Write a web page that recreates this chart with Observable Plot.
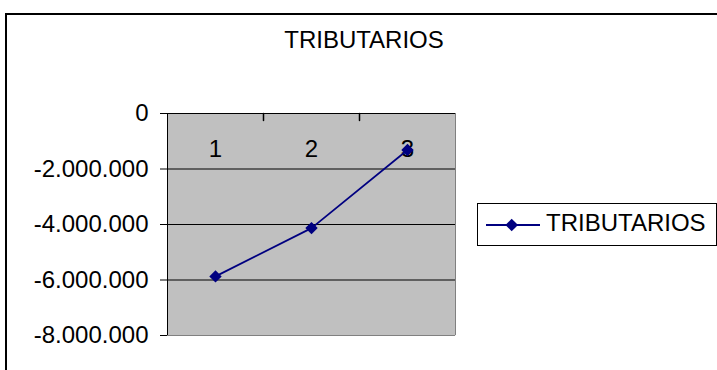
<!DOCTYPE html>
<html><head><meta charset="utf-8">
<script src="https://cdn.jsdelivr.net/npm/d3@7"></script>
<script src="https://cdn.jsdelivr.net/npm/@observablehq/plot@0.6"></script>
<style>
html,body{margin:0;padding:0;background:#fff;overflow:hidden;}
#wrap{position:relative;width:717px;height:370px;}
#wrap > svg{position:absolute;left:0;top:0;}
</style></head><body><div id="wrap"></div>
<script>
const categories = [1, 2, 3];
const seriesName = "TRIBUTARIOS";
const values = [-5870000, -4130000, -1315000];
const yTicks = [0, -2000000, -4000000, -6000000, -8000000];
const title = "TRIBUTARIOS";

const data = categories.map((c, i) => ({cat: c, value: values[i]}));
const locale = d3.formatLocale({decimal: ",", thousands: ".", grouping: [3], currency: ["$", ""], minus: "-"});
const fmt = locale.format(",d");
const FONT = "'Liberation Sans', Arial, sans-serif";
const FS = 24;
const navy = "#000080";
const bounds = [categories[0] - 0.5, categories[categories.length - 1] + 0.5];
const sep = categories.slice(0, -1).map(c => c + 0.5);
const yDomain = [d3.min(yTicks), d3.max(yTicks)];

const tickShape = {draw(ctx, l) { ctx.moveTo(0, 0); ctx.lineTo(0, l); }};

const chart = Plot.plot({
  width: 717, height: 370,
  marginLeft: 167, marginRight: 262, marginTop: 113, marginBottom: 35,
  style: {fontFamily: FONT, fontSize: FS + "px", color: "#000", background: "transparent", overflow: "visible"},
  x: {type: "linear", domain: bounds, axis: null, label: null},
  y: {type: "linear", domain: yDomain, axis: null, label: null},
  marks: [
    Plot.frame({fill: "#C0C0C0", stroke: null}),
    Plot.ruleY(yTicks.slice(1, -1), {stroke: "#000"}),
    Plot.ruleY([yDomain[0]], {stroke: "#808080"}),
    Plot.ruleX([bounds[1]], {stroke: "#808080"}),
    Plot.ruleX([bounds[0]], {stroke: "#000"}),
    Plot.ruleY([0], {stroke: "#000"}),
    Plot.axisY({ticks: yTicks, tickSize: 7, tickPadding: 12, tickFormat: fmt, fontSize: FS, label: null}),
    Plot.vector(sep, {x: d => d, y: 0, length: 7, anchor: "start", shape: tickShape, stroke: "#000"}),
    Plot.text(categories, {x: d => d, y: 0, text: d => String(d), dy: 36, fontSize: FS}),
    Plot.line(data, {x: "cat", y: "value", stroke: navy, strokeWidth: 1.75}),
    Plot.dot(data, {x: "cat", y: "value", symbol: "diamond2", r: 5.6, fill: navy, stroke: null})
  ]
});
const wrap = document.getElementById("wrap");
wrap.appendChild(chart);

// overlay: chart border, title, legend
const over = d3.create("svg").attr("width", 717).attr("height", 370)
  .style("font-family", FONT);
over.append("rect").attr("x", 6).attr("y", 14).attr("width", 900).attr("height", 600)
  .attr("fill", "none").attr("stroke", "#000").attr("stroke-width", 2);
over.append("text").attr("x", 364).attr("y", 48).attr("text-anchor", "middle")
  .attr("font-size", FS).attr("fill", "#000").text(title);
const lg = over.append("g");
lg.append("rect").attr("x", 477.5).attr("y", 203.5).attr("width", 239).attr("height", 42)
  .attr("fill", "#fff").attr("stroke", "#000").attr("stroke-width", 1);
lg.append("line").attr("x1", 486).attr("x2", 540).attr("y1", 225).attr("y2", 225)
  .attr("stroke", navy).attr("stroke-width", 2);
lg.append("path").attr("d", "M511.7,218.7L518,225L511.7,231.3L505.4,225Z").attr("fill", navy);
lg.append("text").attr("x", 546).attr("y", 231).attr("font-size", FS).attr("fill", "#000").text(seriesName);
wrap.appendChild(over.node());
</script></body></html>
